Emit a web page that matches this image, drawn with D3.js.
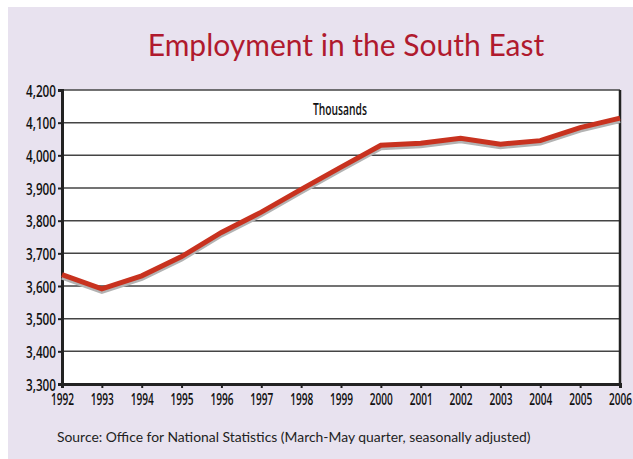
<!DOCTYPE html>
<html>
<head>
<meta charset="utf-8">
<script src="https://cdn.jsdelivr.net/npm/d3@7"></script>
<style>
  body { margin: 0; background: #fff; }
  svg { display: block; }
</style>
</head>
<body>
<div id="chart"></div>
<script>
(function(d3){

  // data (thousands employed)
  var years  = [1992, 1993, 1994, 1995, 1996, 1997, 1998, 1999, 2000, 2001, 2002, 2003, 2004, 2005, 2006],
      values = [3635, 3591, 3631, 3690, 3764, 3826, 3896, 3964, 4031, 4037, 4052, 4034, 4045, 4085, 4114],
      yTicks = [3300, 3400, 3500, 3600, 3700, 3800, 3900, 4000, 4100, 4200];

  var W = 633, H = 459,
      m = {left: 62, right: 13, top: 90, bottom: 75},
      canvas;

  canvas = d3.select('#chart').append('svg')
      .attr('width', W)
      .attr('height', H);

  // lavender panel
  canvas.append('rect')
      .attr('x', 8).attr('y', 7)
      .attr('width', W - 8).attr('height', H - 7)
      .attr('fill', '#e8e2ef');

  canvas.append('text')
      .attr('x', 346).attr('y', 56)
      .attr('text-anchor', 'middle')
      .style('font-family', 'Lato, sans-serif')
      .style('font-size', '30px')
      .attr('fill', '#b01a2e')
      .text('Employment in the South East');

  var x = d3.scaleLinear()
      .domain([years[0], years[years.length - 1]])
      .range([m.left, W - m.right]);

  var y = d3.scaleLinear()
      .domain([3300, 4200])
      .range([H - m.bottom, m.top]);

  // plot background
  canvas.append('rect')
      .attr('x', m.left).attr('y', m.top)
      .attr('width', x.range()[1] - m.left)
      .attr('height', y.range()[0] - m.top)
      .attr('fill', '#fff');

  // gridlines
  canvas.append('g')
      .selectAll('line')
      .data(yTicks.slice(1))
    .enter().append('line')
      .attr('x1', m.left).attr('x2', x.range()[1])
      .attr('y1', function(d) { return y(d); })
      .attr('y2', function(d) { return y(d); })
      .attr('stroke', '#444')
      .attr('stroke-width', 1.5);

  // right border
  canvas.append('line')
      .attr('x1', x.range()[1]).attr('x2', x.range()[1])
      .attr('y1', m.top).attr('y2', y.range()[0])
      .attr('stroke', '#222')
      .attr('stroke-width', 2.5);

  var tickFont = '"Open Sans", "DejaVu Sans", sans-serif';

  var yAxis = canvas.append('g')
      .attr('transform', 'translate(' + m.left + ',0)')
      .call(d3.axisLeft(y).tickValues(yTicks).tickSize(4).tickPadding(2).tickFormat(d3.format(',')));

  var xAxis = canvas.append('g')
      .attr('transform', 'translate(0,' + y.range()[0] + ')')
      .call(d3.axisBottom(x).tickValues(years).tickSize(4).tickPadding(5).tickFormat(d3.format('d')));

  [yAxis, xAxis].forEach(function(a) {
    a.select('.domain').attr('stroke', '#222').attr('stroke-width', 3);
    a.selectAll('.tick line').attr('stroke', '#222').attr('stroke-width', 2);
    a.selectAll('.tick text')
        .attr('fill', '#111')
        .attr('lengthAdjust', 'spacingAndGlyphs')
        .style('font-family', tickFont)
        .style('font-weight', 600)
        .style('font-size', '17px');
  });
  yAxis.selectAll('.tick text').attr('textLength', 30).attr('dy', '0.36em');
  xAxis.selectAll('.tick text').attr('textLength', 23);

  canvas.append('text')
      .attr('x', 340).attr('y', 115)
      .attr('text-anchor', 'middle')
      .attr('textLength', 54)
      .attr('lengthAdjust', 'spacingAndGlyphs')
      .style('font-family', tickFont)
      .style('font-weight', 600)
      .style('font-size', '16px')
      .attr('fill', '#111')
      .text('Thousands');

  var line = d3.line()
      .x(function(d, i) { return x(years[i]); })
      .y(function(d) { return y(d); });

  // shadow then line
  canvas.append('path')
      .datum(values)
      .attr('d', line)
      .attr('transform', 'translate(0,2.5)')
      .attr('fill', 'none')
      .attr('stroke', '#b3b3b3')
      .attr('stroke-width', 5);

  canvas.append('path')
      .datum(values)
      .attr('d', line)
      .attr('fill', 'none')
      .attr('stroke', '#c8321f')
      .attr('stroke-width', 5);

  canvas.append('text')
      .attr('x', 57).attr('y', 442)
      .style('font-family', 'Lato, sans-serif')
      .style('font-size', '13.9px')
      .attr('fill', '#222')
      .text('Source: Office for National Statistics (March-May quarter, seasonally adjusted)');

})(d3);
</script>
</body>
</html>
